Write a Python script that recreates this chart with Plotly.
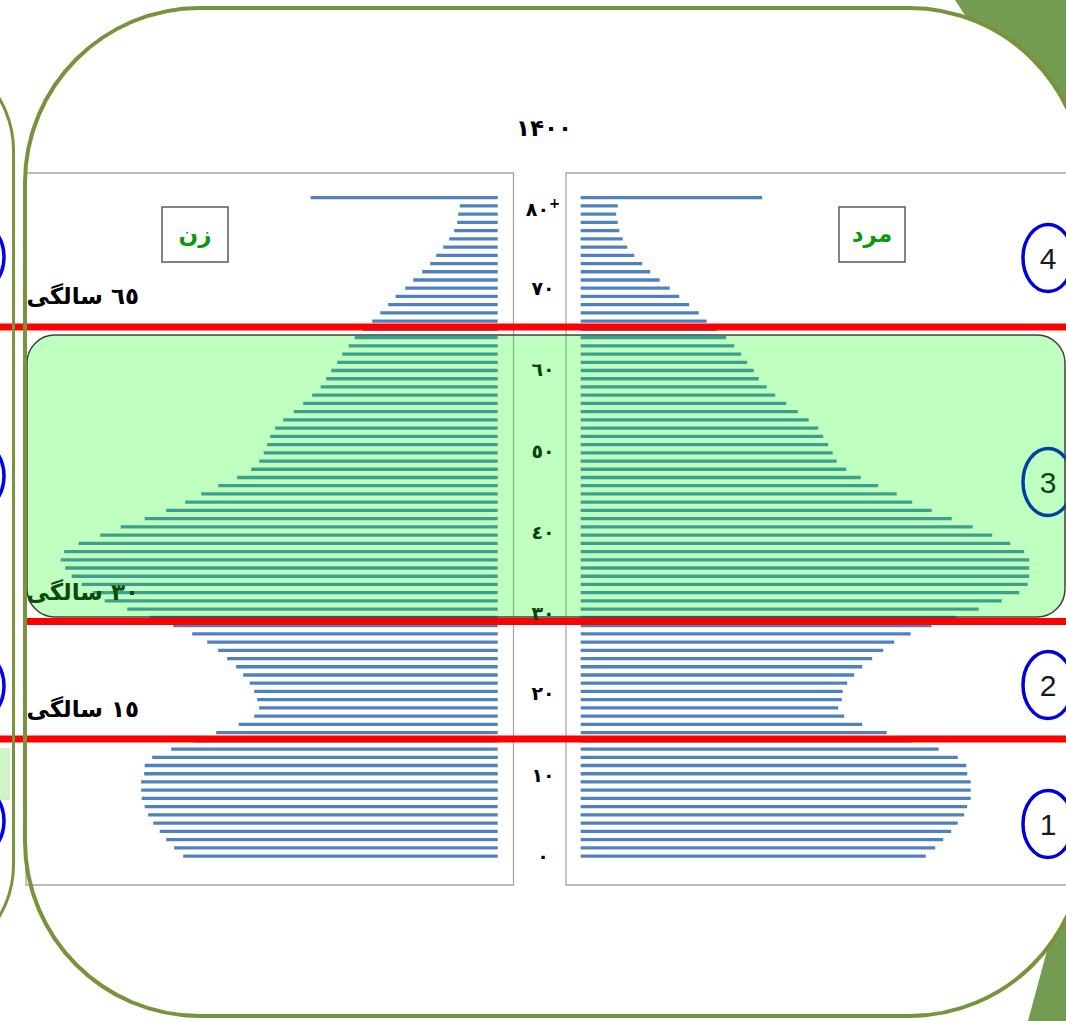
import plotly.graph_objects as go

# single year ages, 80 = 80 and over
ages = list(range(0, 81))

# population by age (thousands)
women = [629, 647, 663, 676, 689, 699, 706, 712, 713, 713,
         707, 706, 691, 653, 609, 563, 518, 487, 477, 481,
         487, 496, 509, 523, 541, 559, 581, 611, 649, 696,
         741, 786, 810, 832, 852, 865, 874, 867, 838, 795,
         754, 706, 663, 625, 593, 559, 521, 493, 477, 468,
         461, 455, 445, 429, 408, 389, 371, 354, 343, 333,
         321, 311, 298, 286, 270, 251, 235, 219, 204, 185,
         169, 151, 135, 123, 109, 97, 87, 81, 79, 76,
         374]
men = [690, 709, 725, 741, 754, 767, 773, 780, 780, 780,
       773, 771, 754, 716, 662, 612, 563, 527, 515, 522,
       524, 533, 547, 563, 583, 605, 627, 660, 702, 751,
       796, 842, 877, 894, 897, 897, 897, 887, 859, 823,
       784, 742, 702, 663, 632, 595, 560, 531, 512, 504,
       495, 485, 475, 456, 434, 411, 389, 372, 356, 346,
       333, 321, 307, 291, 272, 252, 236, 217, 197, 178,
       158, 139, 123, 107, 93, 84, 77, 74, 71, 74,
       363]

tick_ages = [0, 10, 20, 30, 40, 50, 60, 70, 80]
tick_text = ['٠', '١٠', '٢٠', '٣٠', '٤٠', '٥٠', '٦٠', '٧٠', '٨٠<sup>+</sup>']
title_text = '۱۴۰۰'
women_label = 'زن'
men_label = 'مرد'
stage_labels = ['٦٥ سالگی', '٣٠ سالگی', '١٥ سالگی']
stage_numbers = ['4', '3', '2', '1']

W, H = 1066, 1021
BLUE = '#4F81BD'
OLIVE = '#77933C'
FONT = 'DejaVu Sans'


def px(x):
    return x / W


def py(y):
    return 1 - y / H


def P(x, y):
    return f"{x / W:.5f},{1 - y / H:.5f}"


def rounded(x0, y0, x1, y1, r):
    k = 0.5523 * r
    return (f"M {P(x0 + r, y0)} L {P(x1 - r, y0)} "
            f"C {P(x1 - r + k, y0)} {P(x1, y0 + r - k)} {P(x1, y0 + r)} "
            f"L {P(x1, y1 - r)} "
            f"C {P(x1, y1 - r + k)} {P(x1 - r + k, y1)} {P(x1 - r, y1)} "
            f"L {P(x0 + r, y1)} "
            f"C {P(x0 + r - k, y1)} {P(x0, y1 - r + k)} {P(x0, y1 - r)} "
            f"L {P(x0, y0 + r)} "
            f"C {P(x0, y0 + r - k)} {P(x0 + r - k, y0)} {P(x0 + r, y0)} Z")


fig = go.Figure()
fig.add_trace(go.Bar(x=women, y=ages, orientation='h', xaxis='x', yaxis='y',
                     marker=dict(color=BLUE, line=dict(width=0)), width=0.4))
fig.add_trace(go.Bar(x=men, y=ages, orientation='h', xaxis='x2', yaxis='y',
                     marker=dict(color=BLUE, line=dict(width=0)), width=0.4))

shapes = []
# slide decoration triangles
shapes.append(dict(type='path', xref='paper', yref='paper', layer='below',
                   path=f"M {P(955, 0)} L {P(1066, 0)} L {P(1066, 170)} Z",
                   fillcolor='#739B52', line=dict(width=0)))
shapes.append(dict(type='path', xref='paper', yref='paper', layer='below',
                   path=f"M {P(1066, 880)} L {P(1066, 1021)} L {P(1028, 1021)} Z",
                   fillcolor='#739B52', line=dict(width=0)))
# white slide body
shapes.append(dict(type='path', xref='paper', yref='paper', layer='below',
                   path=rounded(25, 8, 1084, 1016, 175),
                   fillcolor='white', line=dict(width=0)))
# bits of the previous slide on the left edge
shapes.append(dict(type='rect', xref='paper', yref='paper', layer='below',
                   x0=px(-5), x1=px(10), y0=py(800), y1=py(748),
                   fillcolor='#CDF5C8', line=dict(width=0)))
for cy in [257, 476, 686, 821]:
    shapes.append(dict(type='circle', xref='paper', yref='paper', layer='below',
                       x0=px(-45), x1=px(4), y0=py(cy + 33), y1=py(cy - 33),
                       line=dict(color='#0000EE', width=3.5)))
# panel frames
shapes.append(dict(type='rect', xref='paper', yref='paper', layer='below',
                   x0=px(26), x1=px(513.5), y0=py(885), y1=py(173),
                   line=dict(color='#A6A6A6', width=1.3)))
shapes.append(dict(type='rect', xref='paper', yref='paper', layer='below',
                   x0=px(566), x1=px(1100), y0=py(885), y1=py(173),
                   line=dict(color='#A6A6A6', width=1.3)))
# sex label boxes
box_x = [(162, 228), (839, 905)]
for x0, x1 in box_x:
    shapes.append(dict(type='rect', xref='paper', yref='paper', layer='below',
                       x0=px(x0), x1=px(x1), y0=py(262), y1=py(207),
                       fillcolor='white', line=dict(color='#595959', width=1.5)))
# numbered circles (drawn before the green band so it tints circle 3)
circle_y = [258, 482, 685, 824]
for cy in circle_y:
    shapes.append(dict(type='circle', xref='paper', yref='paper', layer='above',
                       x0=px(1023), x1=px(1073), y0=py(cy + 33.5), y1=py(cy - 33.5),
                       line=dict(color='#0000DD', width=3.5)))
# green working-age band
shapes.append(dict(type='path', xref='paper', yref='paper', layer='above',
                   path=rounded(27, 335, 1065, 617, 28),
                   fillcolor='rgba(0,255,0,0.25)', line=dict(color='#404040', width=1.5)))
# red dividers
for y, x0 in [(327, 0), (621.5, 25), (739, 0)]:
    shapes.append(dict(type='line', xref='paper', yref='paper', layer='above',
                       x0=px(x0), x1=1, y0=py(y), y1=py(y),
                       line=dict(color='#FF0000', width=7)))
# slide borders on top
shapes.append(dict(type='path', xref='paper', yref='paper', layer='above',
                   path=rounded(-300, 50, 13.5, 965, 100),
                   line=dict(color=OLIVE, width=3)))
shapes.append(dict(type='path', xref='paper', yref='paper', layer='above',
                   path=rounded(25, 8, 1084, 1016, 175),
                   line=dict(color=OLIVE, width=4)))

annotations = []
annotations.append(dict(text=title_text, xref='paper', yref='paper', x=px(544), y=py(128),
                        width=80, height=30, xanchor='center', yanchor='middle',
                        showarrow=False, font=dict(family=FONT, size=23, color='black', weight='bold')))
for age, txt in zip(tick_ages, tick_text):
    col = '#0B400B' if 30 <= age <= 60 else 'black'
    # the source labels sit a touch tighter than the bar rows
    annotations.append(dict(text=txt, xref='paper', yref='y', x=px(543), y=age,
                            yshift=-round(age * 0.12),
                            width=44, height=24, xanchor='center', yanchor='middle',
                            showarrow=False, font=dict(family=FONT, size=19, color=col, weight='bold')))
for txt, (x0, x1) in zip([women_label, men_label], box_x):
    annotations.append(dict(text=txt, xref='paper', yref='paper', x=px((x0 + x1) / 2), y=py(234),
                            width=60, height=34, xanchor='center', yanchor='middle',
                            showarrow=False, font=dict(family=FONT, size=23, color='#0A990A', weight='bold')))
for txt, y, col in zip(stage_labels, [296, 592, 709], ['black', '#0B4A0B', 'black']):
    annotations.append(dict(text=txt, xref='paper', yref='paper', x=px(141), y=py(y),
                            width=116, height=36, xanchor='right', yanchor='middle', align='right',
                            showarrow=False,
                            font=dict(family=FONT, size=23, color=col, weight='bold')))
for txt, cy in zip(stage_numbers, circle_y):
    col = '#123F12' if txt == '3' else '#1A1A1A'
    annotations.append(dict(text=txt, xref='paper', yref='paper', x=px(1048), y=py(cy),
                            width=28, height=40, xanchor='center', yanchor='middle',
                            showarrow=False,
                            font=dict(family='Liberation Sans', size=30, color=col)))

fig.update_layout(
    width=W, height=H,
    margin=dict(l=0, r=0, t=0, b=0),
    paper_bgcolor='white',
    plot_bgcolor='rgba(0,0,0,0)',
    showlegend=False,
    xaxis=dict(domain=[px(26), px(513.5)], range=[943.4, -31.6], visible=False, anchor='y'),
    xaxis2=dict(domain=[px(566), 1], range=[-29.4, 970.6], visible=False, anchor='y'),
    yaxis=dict(domain=[py(885), py(173)], range=[-3.52, 83.0], visible=False, anchor='x'),
    shapes=shapes,
    annotations=annotations,
)

fig.write_html("out.html", config={'displayModeBar': False},
               post_script="document.body.style.margin='0';document.body.style.overflow='hidden';")
